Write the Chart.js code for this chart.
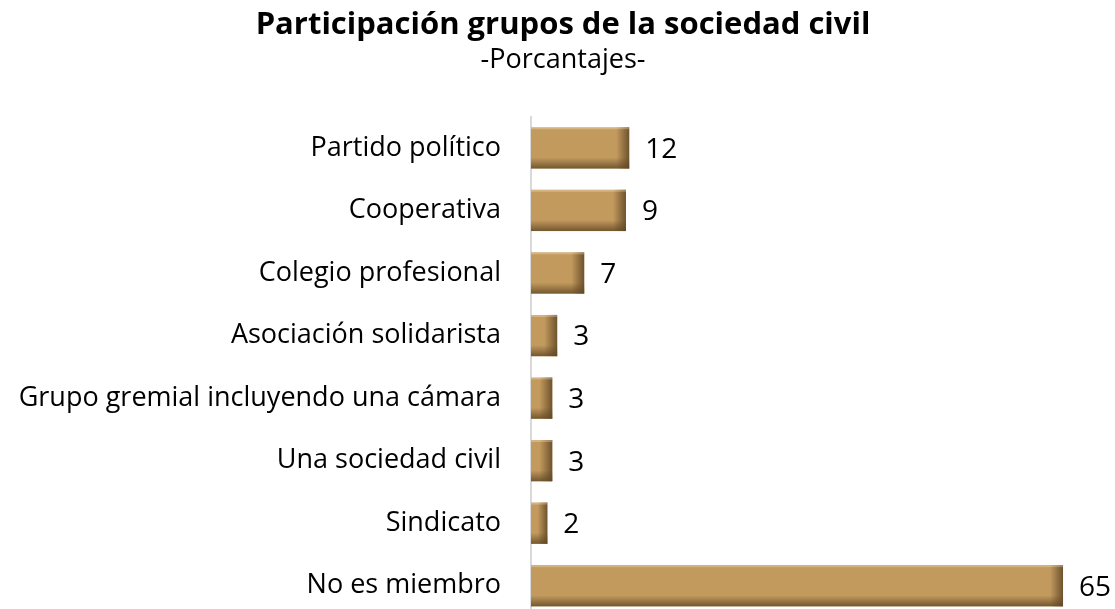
<!DOCTYPE html>
<html>
<head>
<meta charset="utf-8">
<script src="https://cdn.jsdelivr.net/npm/chart.js@4.4.0/dist/chart.umd.min.js"></script>
<style>
  html, body { margin: 0; padding: 0; background: #fff; overflow: hidden; }
  #wrap { width: 1115px; height: 609px; overflow: hidden; }
  #box { position: relative; width: 1115px; height: 626px; }
</style>
</head>
<body>
<div id="wrap"><div id="box"><canvas id="chart"></canvas></div></div>
<script>
// -----------------------------
// Data
// -----------------------------
const categories = [
  "Partido político",
  "Cooperativa",
  "Colegio profesional",
  "Asociación solidarista",
  "Grupo gremial incluyendo una cámara",
  "Una sociedad civil",
  "Sindicato",
  "No es miembro"
];
// bar lengths as drawn in the picture
const barValues = [12, 11.6, 6.5, 3.2, 2.6, 2.6, 2, 65];
// numbers printed next to the bars
const labelValues = [12, 9, 7, 3, 3, 3, 2, 65];

const titleText = "Participación grupos de la sociedad civil";
const subtitleText = "-Porcantajes-";

const FONT = "'Open Sans', 'Noto Sans', sans-serif";
const BAR_COLOR = "#C39A5E";

// Bevel shading on each bar (dark right edge + dark bottom edge)
const bevelPlugin = {
  id: "bevel",
  afterDatasetsDraw(chart) {
    const ctx = chart.ctx;
    chart.getDatasetMeta(0).data.forEach(bar => {
      const left = bar.base, right = bar.x;
      const top = bar.y - bar.height / 2, bottom = bar.y + bar.height / 2;
      ctx.save();
      // bottom shade
      let g = ctx.createLinearGradient(0, bottom - 11, 0, bottom);
      g.addColorStop(0, "rgba(95,70,36,0)");
      g.addColorStop(1, "rgba(95,70,36,0.8)");
      ctx.fillStyle = g;
      ctx.fillRect(left, bottom - 11, right - left, 11);
      // right shade
      const w = Math.min(13, (right - left) * 0.6);
      g = ctx.createLinearGradient(right - w, 0, right, 0);
      g.addColorStop(0, "rgba(95,70,36,0)");
      g.addColorStop(1, "rgba(95,70,36,0.85)");
      ctx.fillStyle = g;
      ctx.fillRect(right - w, top, w, bottom - top);
      // top highlight
      ctx.fillStyle = "rgba(255,240,210,0.3)";
      ctx.fillRect(left, top, right - left, 2);
      ctx.restore();
    });
  }
};

// Value labels to the right of each bar
const valueLabels = {
  id: "valueLabels",
  afterDatasetsDraw(chart) {
    const ctx = chart.ctx;
    ctx.save();
    ctx.font = "28px " + FONT;
    ctx.fillStyle = "#000";
    ctx.textAlign = "left";
    ctx.textBaseline = "middle";
    chart.getDatasetMeta(0).data.forEach((bar, i) => {
      ctx.fillText(String(labelValues[i]), bar.x + 16, bar.y + 2);
    });
    ctx.restore();
  }
};

new Chart(document.getElementById("chart"), {
  type: "bar",
  data: {
    labels: categories,
    datasets: [{
      data: barValues,
      backgroundColor: BAR_COLOR,
      borderWidth: 0,
      categoryPercentage: 1.0,
      barPercentage: 0.66
    }]
  },
  options: {
    indexAxis: "y",
    responsive: true,
    maintainAspectRatio: false,
    animation: false,
    layout: { padding: { top: 0, right: 0, bottom: 9, left: 11 } },
    scales: {
      x: { display: false, min: 0, max: 71.35 },
      y: {
        afterFit: scale => {
          scale.width = 520;
          // labels sit inside their bands, no overflow room needed
          scale.paddingTop = 0;
          scale.paddingBottom = 0;
        },
        grid: { display: false, drawTicks: false },
        border: { display: true, color: "#d9d9d9", width: 2 },
        ticks: {
          color: "#000",
          padding: 30,
          font: { family: FONT, size: 27 }
        }
      }
    },
    plugins: {
      legend: { display: false },
      tooltip: { enabled: false },
      title: {
        display: true,
        text: titleText,
        color: "#000",
        font: { family: FONT, size: 31, weight: "bold", lineHeight: 1.2 },
        padding: { top: 7, bottom: 0 }
      },
      subtitle: {
        display: true,
        text: subtitleText,
        color: "#000",
        font: { family: FONT, size: 27, lineHeight: 1.2 },
        padding: { top: 0, bottom: 40 }
      }
    }
  },
  plugins: [bevelPlugin, valueLabels]
});
</script>
</body>
</html>
